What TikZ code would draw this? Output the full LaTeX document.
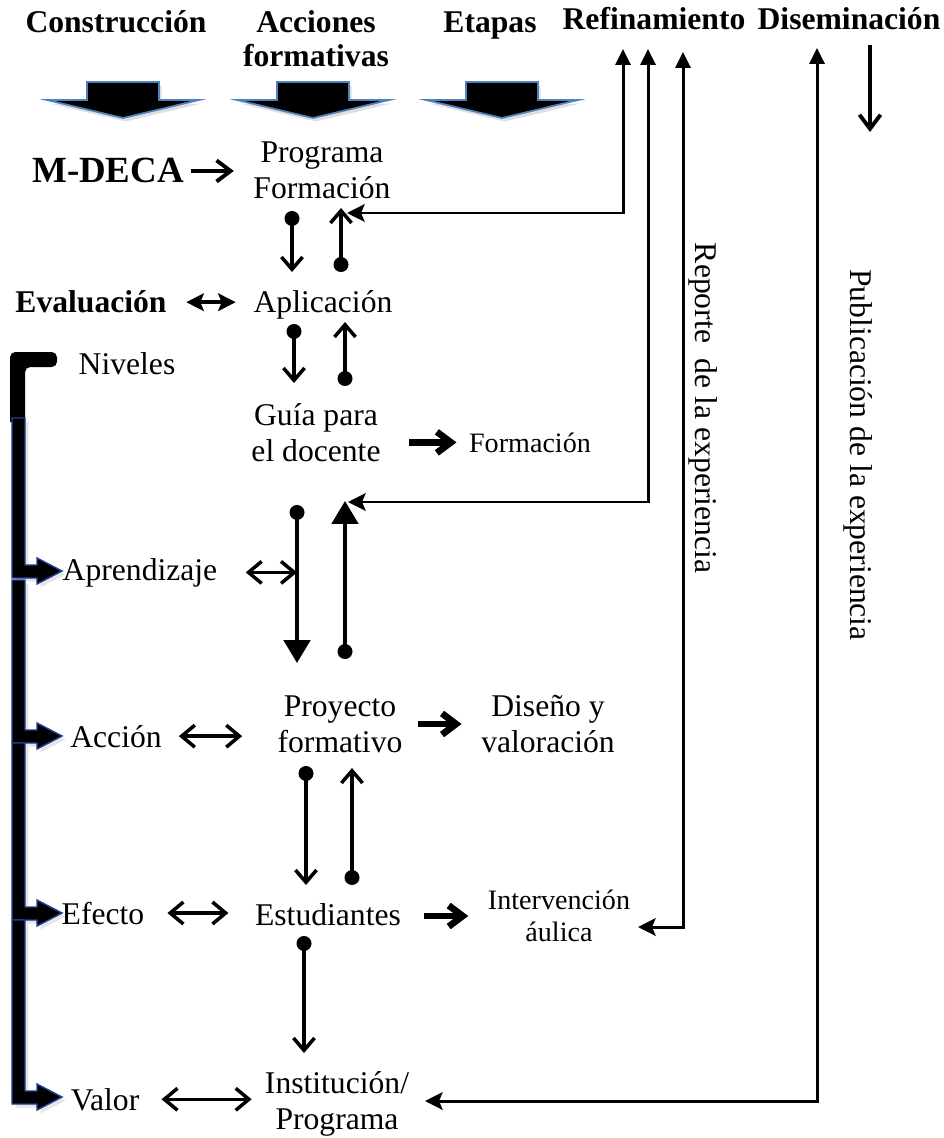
\documentclass[tikz,border=0pt]{standalone}
\usepackage{fontspec}
\setmainfont{Liberation Serif}
\usetikzlibrary{arrows.meta,shadows}
\definecolor{headblue}{HTML}{4F81BD}
\definecolor{levelblue}{HTML}{1F3F99}
\tikzset{
    hdr/.style={font=\bfseries\fontsize{18}{19.3}\selectfont, align=center, inner sep=0pt},
    lbl/.style={font=\fontsize{18}{20.4}\selectfont, align=center, inner sep=0pt},
    sml/.style={font=\fontsize{16}{18}\selectfont, align=center, inner sep=0pt},
    blockarrow/.style={fill=black, draw=headblue, line width=1pt,
        drop shadow={opacity=0.25, shadow xshift=1.5pt, shadow yshift=-2pt}},
    levelarrow/.style={fill=black, draw=levelblue, line width=0.8pt,
        drop shadow={opacity=0.2, shadow xshift=2pt, shadow yshift=-2pt}},
    dotdown/.style={line width=2pt, {Circle[length=8.5pt]}-{Straight Barb[length=7pt,width=12pt]}},
    dotbig/.style={line width=2pt, {Circle[length=8.5pt]}-{Triangle[length=13pt,width=15pt]}},
    twoway/.style={line width=2pt, {Straight Barb[length=7.5pt,width=12.5pt]}-{Straight Barb[length=7.5pt,width=12.5pt]}},
    twowayfill/.style={line width=2.3pt, {Stealth[length=10pt,width=10pt,inset=2pt]}-{Stealth[length=10pt,width=10pt,inset=2pt]}},
    openarrow/.style={line width=2.2pt, -{Straight Barb[length=8pt,width=12pt]}},
    thickarrow/.style={line width=3.8pt, -{Straight Barb[length=8pt,width=12pt]}},
    refline/.style={line width=1.7pt, {Stealth[length=10pt,width=10pt,inset=2pt]}-{Triangle[length=9pt,width=8.5pt]}},
}
\begin{document}
\begin{tikzpicture}[x=0.02cm,y=-0.02cm]
    \useasboundingbox (0,0) rectangle (943,1138);
    % headers
    \node[hdr,anchor=base] (hcons) at (116,33) {Construcción};
    \node[hdr] (hacc) at (316,39) {Acciones\\formativas};
    \node[hdr,anchor=base] (hetap) at (490,33) {Etapas};
    \node[hdr,anchor=base] (href) at (654,30) {Refinamiento};
    \node[hdr,anchor=base] (hdis) at (849,30) {Diseminación};
    \foreach \cx in {123,313,502}
        \filldraw[blockarrow] (\cx-36,82) -- (\cx+36,82) -- (\cx+36,100) -- (\cx+76,100)
            -- (\cx,118) -- (\cx-76,100) -- (\cx-36,100) -- cycle;
    % levels
    \fill[rounded corners=3pt] (10,422) -- (10,352) -- (57,352) -- (57,367) -- (25,367) [sharp corners] -- (25,422) -- cycle;
    \foreach \ytop/\yarr in {418/571,580/736,743/913,920/1097}
        \filldraw[levelarrow] (12,\ytop) -- (25,\ytop) -- (25,\yarr-6) -- (37,\yarr-6) -- (37,\yarr-13)
            -- (62,\yarr) -- (37,\yarr+13) -- (37,\yarr+7) -- (12,\yarr+7) -- cycle;
    % nodes
    \node[hdr,anchor=base,font=\bfseries\fontsize{21}{22}\selectfont] (mdeca) at (108,183) {M-DECA};
    \node[lbl] (prog) at (322,170) {Programa\\Formación};
    \node[hdr,anchor=base] (eval) at (91,313) {Evaluación};
    \node[lbl,anchor=base] (aplic) at (323,313) {Aplicación};
    \node[lbl,anchor=base] (niveles) at (127,374) {Niveles};
    \node[lbl] (guia) at (316,433) {Guía para\\el docente};
    \node[sml,anchor=base] (form2) at (530,452) {Formación};
    \node[lbl,anchor=base] (aprend) at (140,580) {Aprendizaje};
    \node[lbl] (proy) at (340,724) {Proyecto\\formativo};
    \node[lbl] (diseno) at (548,724) {Diseño y\\valoración};
    \node[lbl,anchor=base] (accion) at (116,747) {Acción};
    \node[lbl,anchor=base] (estud) at (328,925) {Estudiantes};
    \node[lbl,anchor=base] (efecto) at (103,924) {Efecto};
    \node[sml] (interv) at (559,916) {Intervención\\áulica};
    \node[lbl] (inst) at (337,1104) {Institución/\\Programa};
    \node[lbl,anchor=base] (valor) at (105,1110) {Valor};
    \node[lbl,rotate=-90] (reporte) at (703,408) {Reporte\ \ de la experiencia};
    \node[lbl,rotate=-90] (publ) at (858,455) {Publicación de la experiencia};
    % free ends
    \coordinate (pa1) at (292,211);  \coordinate (pa2) at (292,272);
    \coordinate (pb1) at (341,272);  \coordinate (pb2) at (341,208);
    \coordinate (pc1) at (294,324);  \coordinate (pc2) at (294,383);
    \coordinate (pd1) at (345,386);  \coordinate (pd2) at (345,322);
    \coordinate (pe1) at (297,505);  \coordinate (pe2) at (297,663);
    \coordinate (pf1) at (345,659);  \coordinate (pf2) at (345,501);
    \coordinate (pg1) at (306,766);  \coordinate (pg2) at (306,885);
    \coordinate (ph1) at (352,885);  \coordinate (ph2) at (352,768);
    \coordinate (pi1) at (304,936);  \coordinate (pi2) at (304,1053);
    \coordinate (rf1) at (347,213);  \coordinate (rt1) at (623,49);
    \coordinate (rf2) at (348,502);  \coordinate (rt2) at (648,49);
    \coordinate (rf3) at (638,927);  \coordinate (rt3) at (683,52);
    \coordinate (pub1) at (425,1101); \coordinate (pubt) at (817,48);
    \coordinate (dis1) at (870,45);  \coordinate (dis2) at (870,132);
    % connectors
    \draw[openarrow,shorten <=4pt,shorten >=11pt] (mdeca.east) -- (mdeca.east -| prog.west);
    \draw[twowayfill,shorten <=11pt,shorten >=10pt] (eval.east) -- (eval.east -| aplic.west);
    \draw[dotdown] (pa1) -- (pa2);
    \draw[dotdown] (pb1) -- (pb2);
    \draw[dotdown] (pc1) -- (pc2);
    \draw[dotdown] (pd1) -- (pd2);
    \draw[thickarrow,shorten <=16pt,shorten >=7pt] (guia.east |- form2.west) -- (form2.west);
    \draw[dotbig] (pe1) -- (pe2);
    \draw[dotbig] (pf1) -- (pf2);
    \draw[twoway,shorten <=16pt] (aprend.east) -- (aprend.east -| pe1);
    \draw[twoway,shorten <=9.6pt,shorten >=20pt] (accion.east) -- (accion.east -| proy.west);
    \draw[thickarrow,shorten <=8.5pt,shorten >=11pt] (proy.east) -- (proy.east -| diseno.west);
    \draw[dotdown] (pg1) -- (pg2);
    \draw[dotdown] (ph1) -- (ph2);
    \draw[twoway,shorten <=13pt,shorten >=15pt] (efecto.east) -- (efecto.east -| estud.west);
    \draw[thickarrow,shorten <=13pt,shorten >=11pt] (estud.east |- interv.west) -- (interv.west);
    \draw[dotdown] (pi1) -- (pi2);
    \draw[twoway,shorten <=12.5pt,shorten >=7.4pt] (valor.east) -- (valor.east -| inst.west);
    \draw[refline] (rf1) -| (rt1);
    \draw[refline] (rf2) -| (rt2);
    \draw[refline] (rf3) -| (rt3);
    \draw[refline] (pub1) -| (pubt);
    \draw[openarrow] (dis1) -- (dis2);
\end{tikzpicture}
\end{document}
